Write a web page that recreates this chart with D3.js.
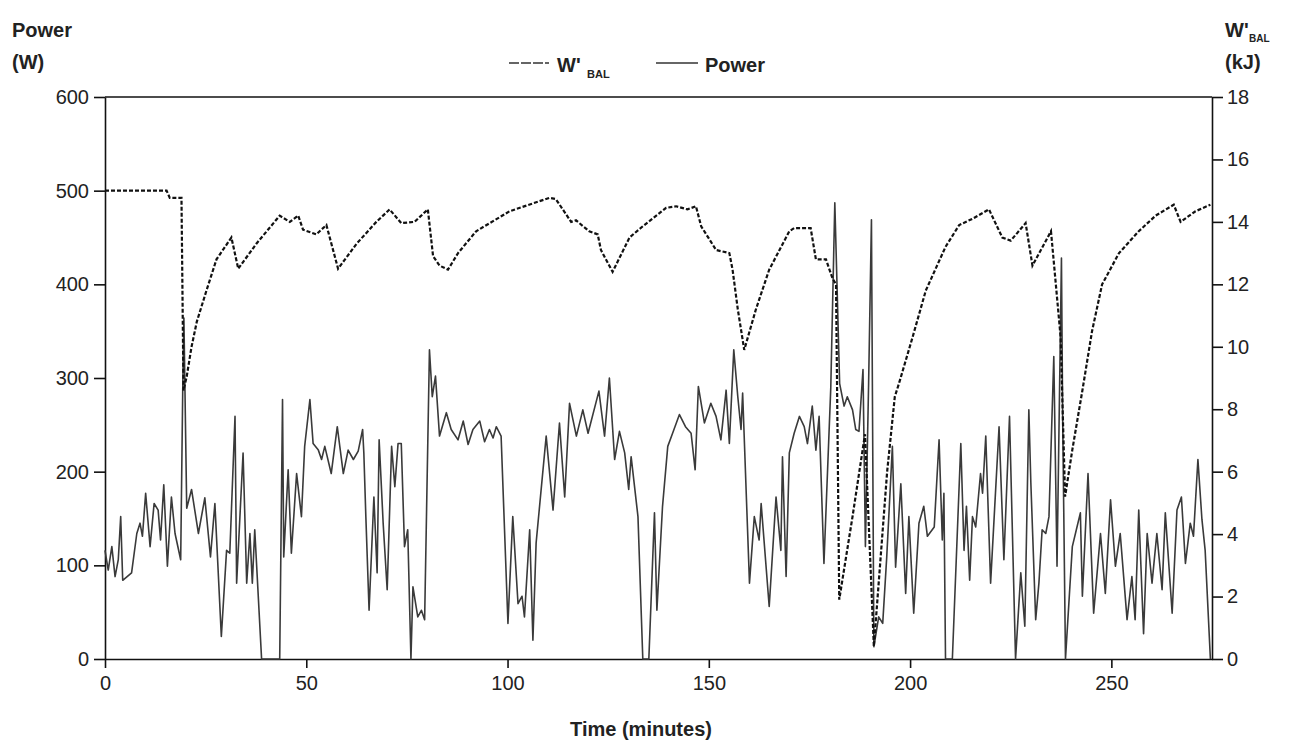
<!DOCTYPE html>
<html>
<head>
<meta charset="utf-8">
<script src="https://cdn.jsdelivr.net/npm/d3@7"></script>
<style>
  body { margin: 0; background: #fff; }
  text { font-family: "Liberation Sans", Arial, sans-serif; fill: #222; }
</style>
</head>
<body>
<svg id="chart" width="1289" height="744"></svg>
<script>
// x ticks, y ticks
var timeTicks = [0, 50, 100, 150, 200, 250];
var powerTicks = [0, 100, 200, 300, 400, 500, 600];
var wbalTicks = [0, 2, 4, 6, 8, 10, 12, 14, 16, 18];

// Power (W)
var powerTime = [0, 0.8, 1.7, 2.5, 3.3, 3.9, 4.4, 6.6, 7.9, 8.7, 9.3, 10.1, 11.2, 12.2, 13.2, 13.8, 14.6, 15.5, 16.5, 17.4, 18.8, 19.3, 19.6, 20.3, 21.5, 23.2, 24.8, 26.2, 27.3, 28.9, 30.2, 31, 32.3, 32.7, 34.3, 35.2, 36, 36.6, 37.2, 38.9, 43.4, 44.1, 44.4, 45.5, 46.3, 47.6, 48.8, 49.6, 50.9, 51.7, 53, 53.8, 54.6, 56.2, 57.7, 59.2, 60.4, 61.7, 62.9, 64, 64.3, 64.8, 65.6, 66.8, 67.6, 68.1, 69.1, 70.1, 71.2, 72, 72.8, 73.6, 74.4, 75.2, 76, 76.5, 77.7, 78.6, 79.4, 80.6, 81.3, 82.1, 83.1, 84.8, 86, 87.7, 89, 90.2, 91.4, 93.1, 94.3, 95.5, 96.4, 97.2, 98.4, 100.1, 101.3, 102.6, 103.6, 104.2, 105.5, 106.3, 107.1, 109.6, 111.3, 112.9, 114.2, 115.4, 117.1, 118.7, 120, 122.7, 124.1, 125.3, 126.6, 127.8, 129.1, 130.1, 130.7, 132.4, 133.6, 135.1, 136.5, 137.1, 138.5, 139.8, 141, 142.7, 144.2, 145.6, 146.6, 147.4, 148.9, 150.5, 151.8, 153, 154.3, 155.1, 156.2, 157.2, 158, 158.4, 160.1, 161.3, 162.5, 163, 165, 166.7, 167.9, 168.3, 169.2, 170, 171.2, 172.5, 173.7, 174.5, 175.7, 176.6, 177.4, 178.6, 180.3, 181.3, 182.5, 183.6, 184.4, 185.7, 186.5, 187.3, 188.3, 188.9, 189.7, 190.4, 191, 192.2, 193.2, 194.2, 195.6, 196.4, 197.7, 198.9, 199.7, 200.9, 202.2, 203.4, 204.3, 206, 207.2, 208, 208.4, 208.8, 210.5, 212.6, 213.4, 214, 214.8, 215.5, 216.3, 217.5, 218, 218.8, 220, 222.1, 223.3, 224.7, 226.2, 227.5, 228.5, 229.5, 230, 231.2, 232, 232.8, 233.7, 234.5, 235.7, 236.5, 237.6, 237.9, 238.6, 240.3, 241.3, 242.3, 242.8, 244.2, 245.6, 247.3, 248.5, 249.8, 251, 252.2, 253.9, 255.1, 255.9, 256.8, 258, 258.9, 260.1, 261.3, 262.6, 263.4, 265.1, 266.3, 267.4, 268.4, 269.6, 270.4, 271.5, 272.5, 273.3, 274.6];
var powerValue = [116, 95, 120, 88, 106, 152, 84, 92, 134, 145, 131, 177, 120, 166, 159, 127, 186, 99, 173, 134, 106, 284, 364, 161, 181, 134, 172, 109, 166, 24, 116, 113, 259, 81, 220, 81, 134, 81, 138, 0, 0, 277, 109, 202, 113, 198, 152, 227, 277, 230, 223, 213, 227, 198, 248, 198, 223, 213, 222, 245, 220, 152, 52, 173, 92, 234, 145, 74, 227, 184, 230, 230, 120, 138, 0, 77, 45, 52, 42, 330, 280, 302, 238, 263, 245, 234, 254, 229, 245, 254, 232, 245, 236, 248, 238, 38, 152, 59, 67, 45, 138, 20, 124, 238, 159, 252, 173, 273, 238, 266, 241, 286, 238, 300, 213, 243, 220, 181, 216, 152, 0, 0, 156, 52, 163, 227, 241, 261, 248, 241, 202, 291, 252, 273, 259, 234, 287, 230, 330, 280, 245, 284, 81, 152, 127, 166, 56, 173, 116, 216, 88, 220, 241, 259, 248, 230, 270, 223, 259, 102, 290, 487, 294, 270, 280, 266, 245, 243, 309, 120, 295, 469, 13, 45, 38, 109, 227, 98, 187, 70, 152, 49, 145, 163, 131, 141, 234, 127, 177, 0, 0, 230, 116, 163, 84, 152, 141, 198, 177, 238, 81, 248, 106, 259, 0, 92, 35, 266, 188, 42, 81, 138, 134, 152, 323, 99, 428, 259, 0, 120, 138, 156, 67, 198, 49, 134, 70, 170, 99, 134, 42, 88, 42, 159, 27, 134, 81, 134, 74, 156, 49, 159, 173, 102, 145, 131, 213, 149, 116, 0];

// W'BAL (kJ)
var wbalTime = [0, 15.3, 16.1, 19.0, 19.5, 20.3, 21.5, 22.8, 25.2, 27.7, 31.4, 33.1, 37.6, 43.4, 45.9, 48, 49.2, 52.5, 55, 57.9, 62.5, 67.4, 70.7, 73.6, 76.9, 80.2, 81.5, 83.1, 85.2, 87.7, 92.2, 100.5, 110.4, 112, 115.8, 117, 120.3, 122.4, 123.2, 126.1, 130.3, 133.6, 139.4, 141.9, 144.7, 146.8, 148.1, 151.8, 155.1, 155.9, 157.2, 158.8, 161.7, 165, 170, 171.2, 175.3, 176.6, 179.1, 180.7, 181.6, 182.4, 185.7, 188.8, 191, 194.3, 196.2, 197.3, 200.6, 203.9, 208.8, 212.2, 215.5, 219.6, 222.9, 225, 228.7, 230.4, 235, 236.1, 237.4, 238.5, 240.3, 242.8, 245.2, 247.7, 251.9, 256.8, 261, 265.5, 267.2, 270.9, 274.6];
var wbalValue = [15.0, 15.0, 14.77, 14.77, 8.6, 9.05, 10.0, 10.8, 11.8, 12.8, 13.5, 12.5, 13.3, 14.2, 14.0, 14.2, 13.75, 13.6, 13.9, 12.5, 13.3, 14.0, 14.4, 13.96, 14.0, 14.4, 12.9, 12.6, 12.47, 13.0, 13.7, 14.34, 14.77, 14.73, 14.0, 14.05, 13.7, 13.6, 13.1, 12.4, 13.5, 13.86, 14.45, 14.5, 14.4, 14.5, 13.86, 13.1, 13.0, 12.47, 11.2, 9.9, 11.2, 12.47, 13.7, 13.8, 13.8, 12.8, 12.8, 12.2, 12.0, 1.9, 4.56, 7.2, 0.4, 6.0, 8.4, 8.85, 10.3, 11.8, 13.2, 13.9, 14.1, 14.4, 13.5, 13.4, 13.96, 12.6, 13.7, 12.15, 10.3, 5.2, 6.7, 8.6, 10.5, 12.0, 13.0, 13.7, 14.2, 14.55, 14.0, 14.34, 14.55];

var svg = d3.select("#chart");
var plotLeft = 105, plotRight = 1212, plotTop = 97, plotBottom = 659;

var x = d3.scaleLinear().domain([0, 275]).range([plotLeft, plotRight]);
var yP = d3.scaleLinear().domain([0, 600]).range([plotBottom, plotTop]);
var yW = d3.scaleLinear().domain([0, 18]).range([plotBottom, plotTop]);

// frame top line
svg.append("line")
  .attr("x1", plotLeft).attr("x2", plotRight)
  .attr("y1", plotTop).attr("y2", plotTop)
  .attr("stroke", "#111").attr("stroke-width", 1.6);

function styleAxis(g) {
  g.selectAll("path, line").attr("stroke", "#111").attr("stroke-width", 1.6);
  g.selectAll("text").attr("font-size", 20).attr("fill", "#222")
    .attr("font-family", "Liberation Sans, Arial, sans-serif");
}

svg.append("g")
  .attr("transform", "translate(0," + plotBottom + ")")
  .call(d3.axisBottom(x).tickValues(timeTicks).tickSize(9).tickSizeOuter(0).tickPadding(8))
  .call(styleAxis);

svg.append("g")
  .attr("transform", "translate(" + plotLeft + ",0)")
  .call(d3.axisLeft(yP).tickValues(powerTicks).tickSize(11).tickSizeOuter(0).tickPadding(5))
  .call(styleAxis);

svg.append("g")
  .attr("transform", "translate(" + plotRight + ",0)")
  .call(d3.axisRight(yW).tickValues(wbalTicks).tickSize(11).tickSizeOuter(0).tickPadding(4))
  .call(styleAxis);

// lines
var powerLine = d3.line()
  .x(function (d, i) { return x(powerTime[i]); })
  .y(function (d) { return yP(d); });

var wbalLine = d3.line()
  .x(function (d, i) { return x(wbalTime[i]); })
  .y(function (d) { return yW(d); });

svg.append("path")
  .datum(powerValue)
  .attr("d", powerLine)
  .attr("fill", "none")
  .attr("stroke", "#3a3a3a")
  .attr("stroke-width", 1.6)
  .attr("stroke-linejoin", "round");

svg.append("path")
  .datum(wbalValue)
  .attr("d", wbalLine)
  .attr("fill", "none")
  .attr("stroke", "#111")
  .attr("stroke-width", 2.2)
  .attr("stroke-dasharray", "4,2");

// axis titles
function bold(txt, xx, yy, size, anchor) {
  return svg.append("text")
    .attr("x", xx).attr("y", yy)
    .attr("font-size", size)
    .attr("font-weight", "bold")
    .attr("text-anchor", anchor || "start")
    .text(txt);
}

bold("Power", 12, 37, 20);
bold("(W)", 12, 69, 20);

bold("W'", 1225, 37, 20);
bold("BAL", 1249, 42, 10);
bold("(kJ)", 1225, 69, 20);

bold("Time (minutes)", 641, 736, 20, "middle");

// legend
svg.append("line")
  .attr("x1", 509).attr("x2", 549).attr("y1", 63).attr("y2", 63)
  .attr("stroke", "#333").attr("stroke-width", 1.6)
  .attr("stroke-dasharray", "10,2");
bold("W'", 557, 72, 20);
bold("BAL", 587, 78, 11);

svg.append("line")
  .attr("x1", 656).attr("x2", 698).attr("y1", 63).attr("y2", 63)
  .attr("stroke", "#333").attr("stroke-width", 1.6);
bold("Power", 705, 72, 20);
</script>
</body>
</html>
